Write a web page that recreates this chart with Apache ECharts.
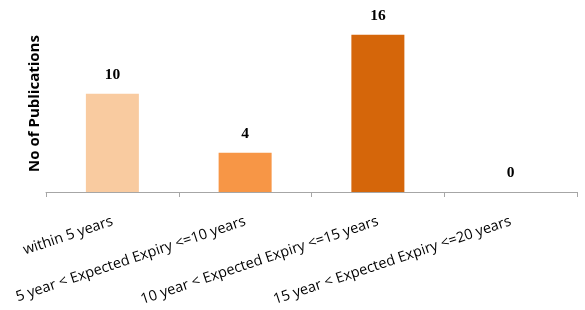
<!DOCTYPE html>
<html>
<head>
<meta charset="utf-8">
<script src="https://cdn.jsdelivr.net/npm/echarts@6/dist/echarts.min.js"></script>
<style>
  html, body { margin: 0; padding: 0; background: #fff; }
  #chart { width: 585px; height: 310px; }
</style>
</head>
<body>
<div id="chart"></div>
<script>
const categories = [
  'within 5 years',
  '5 year < Expected Expiry <=10 years',
  '10 year < Expected Expiry <=15 years',
  '15 year < Expected Expiry <=20 years'
]
const publications = [10, 4, 16, 0]
const barColors = ['#F9CBA0', '#F79646', '#D5660A', '#D5660A']

const chart = echarts.init(document.getElementById('chart'))

chart.setOption({
  animation: false,
  grid: {
    left: 46,
    right: 8,
    top: 15,
    bottom: 118,
    containLabel: false,
    outerBoundsMode: 'none'
  },
  xAxis: {
    type: 'category',
    data: categories,
    axisLine: {
      lineStyle: { color: '#A6A6A6', width: 1 }
    },
    axisTick: {
      show: true,
      length: 5,
      lineStyle: { color: '#A6A6A6' }
    },
    axisLabel: {
      interval: 0,
      rotate: 18.5,
      margin: 29,
      fontFamily: 'Open Sans',
      fontSize: 14.5,
      color: '#000'
    }
  },
  yAxis: {
    type: 'value',
    min: 0,
    max: 18,
    name: 'No of Publications',
    nameLocation: 'middle',
    nameGap: 4,
    nameTextStyle: {
      fontFamily: 'Open Sans',
      fontWeight: 'bold',
      fontSize: 15,
      color: '#000'
    },
    axisLine: { show: false },
    axisTick: { show: false },
    axisLabel: { show: false },
    splitLine: { show: false }
  },
  series: [
    {
      type: 'bar',
      barWidth: 53,
      data: publications.map((v, i) => ({
        value: v,
        itemStyle: { color: barColors[i] }
      })),
      label: {
        show: true,
        position: 'top',
        distance: 11,
        fontFamily: 'Liberation Serif',
        fontWeight: 'bold',
        fontSize: 15.5,
        color: '#000'
      }
    }
  ]
})
</script>
</body>
</html>
